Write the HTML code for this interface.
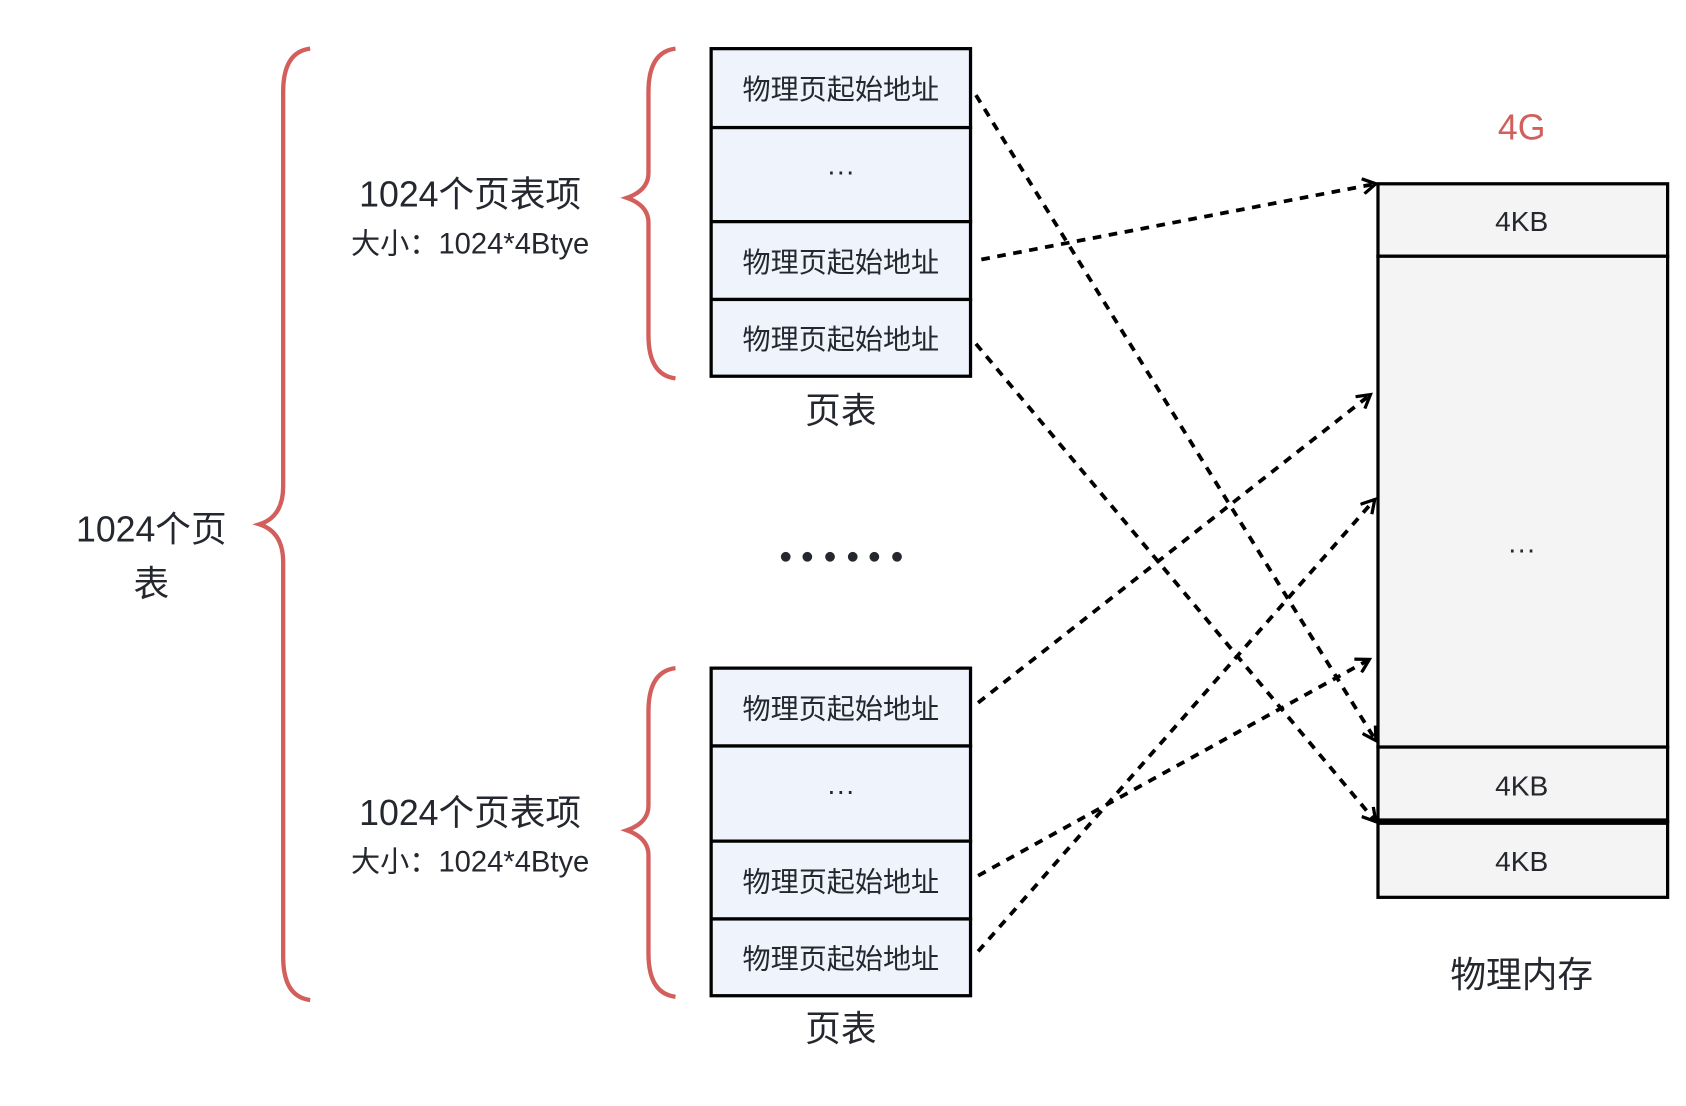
<!DOCTYPE html>
<html><head><meta charset="utf-8"><style>
html,body{margin:0;padding:0;background:#fff;width:1686px;height:1106px;overflow:hidden}
svg text{font-family:"Liberation Sans","Noto Sans CJK SC",sans-serif;fill:#24272e;text-anchor:middle;dominant-baseline:central}
</style></head><body>
<svg width="1686" height="1106" viewBox="0 0 1560 1023" preserveAspectRatio="none" xmlns="http://www.w3.org/2000/svg">
<defs>
<marker id="a" markerWidth="16" markerHeight="16" refX="13" refY="8" orient="auto" markerUnits="userSpaceOnUse">
<path d="M1,1 L13,8 L1,15" fill="none" stroke="#000" stroke-width="3"/>
</marker>
</defs>
<g fill="none" stroke="#d35f5c" stroke-width="4">
<path d="M287,45 Q262,48 262,85 L262,450 Q262,478 240,485 Q262,492 262,520 L262,885 Q262,922 287,925"/>
<path d="M625,45 Q600,48 600,85 L600,160 Q600,176 580,183 Q600,190 600,206 L600,310 Q600,347 625,350"/>
<path d="M625,618 Q600,621 600,658 L600,745 Q600,761 580,768 Q600,775 600,791 L600,882 Q600,919 625,922"/>
</g>
<text x="140" y="490" font-size="33">1024个页</text>
<text x="140" y="540" font-size="33">表</text>
<text x="435" y="180" font-size="33">1024个页表项</text>
<text x="435" y="226" font-size="27">大小：1024*4Btye</text>
<text x="435" y="752" font-size="33">1024个页表项</text>
<text x="435" y="798" font-size="27">大小：1024*4Btye</text>
<g stroke="#000" stroke-width="3" fill="#eff3fc">
<rect x="658" y="45" width="240" height="73"/><rect x="658" y="118" width="240" height="87"/>
<rect x="658" y="205" width="240" height="72"/><rect x="658" y="277" width="240" height="71"/>
<rect x="658" y="618" width="240" height="72"/><rect x="658" y="690" width="240" height="88"/>
<rect x="658" y="778" width="240" height="72"/><rect x="658" y="850" width="240" height="71"/>
</g>
<g font-size="26">
<text x="778" y="83">物理页起始地址</text><text x="778" y="158">···</text>
<text x="778" y="243">物理页起始地址</text><text x="778" y="314">物理页起始地址</text>
<text x="778" y="656">物理页起始地址</text><text x="778" y="731">···</text>
<text x="778" y="816">物理页起始地址</text><text x="778" y="887">物理页起始地址</text>
</g>
<text x="778" y="380" font-size="33">页表</text>
<text x="778" y="952" font-size="33">页表</text>
<g fill="#24272e"><circle cx="727" cy="515" r="4.5"/><circle cx="747" cy="515" r="4.5"/><circle cx="768" cy="515" r="4.5"/><circle cx="789" cy="515" r="4.5"/><circle cx="809" cy="515" r="4.5"/><circle cx="830" cy="515" r="4.5"/></g>
<g stroke="#000" stroke-width="3" fill="#f4f4f4">
<rect x="1275" y="170" width="268" height="67"/><rect x="1275" y="237" width="268" height="454"/>
<rect x="1275" y="691" width="268" height="69"/><rect x="1275" y="760" width="268" height="70"/>
</g>
<line x1="1275" y1="760" x2="1543" y2="760" stroke="#000" stroke-width="6"/>
<text x="1408" y="205" font-size="26">4KB</text>
<text x="1408" y="508" font-size="26">···</text>
<text x="1408" y="727" font-size="26">4KB</text>
<text x="1408" y="797" font-size="26">4KB</text>
<text x="1408" y="118" font-size="33" style="fill:#d35f5c">4G</text>
<text x="1408" y="902" font-size="33">物理内存</text>
<g stroke="#000" stroke-width="3.5" stroke-dasharray="8,7" fill="none" marker-end="url(#a)">
<line x1="903" y1="88" x2="1273" y2="685"/>
<line x1="908" y1="240" x2="1273" y2="170"/>
<line x1="903" y1="318" x2="1273" y2="760"/>
<line x1="905" y1="650" x2="1268" y2="365"/>
<line x1="905" y1="810" x2="1267" y2="610"/>
<line x1="905" y1="880" x2="1272" y2="462"/>
</g>
</svg>
</body></html>
